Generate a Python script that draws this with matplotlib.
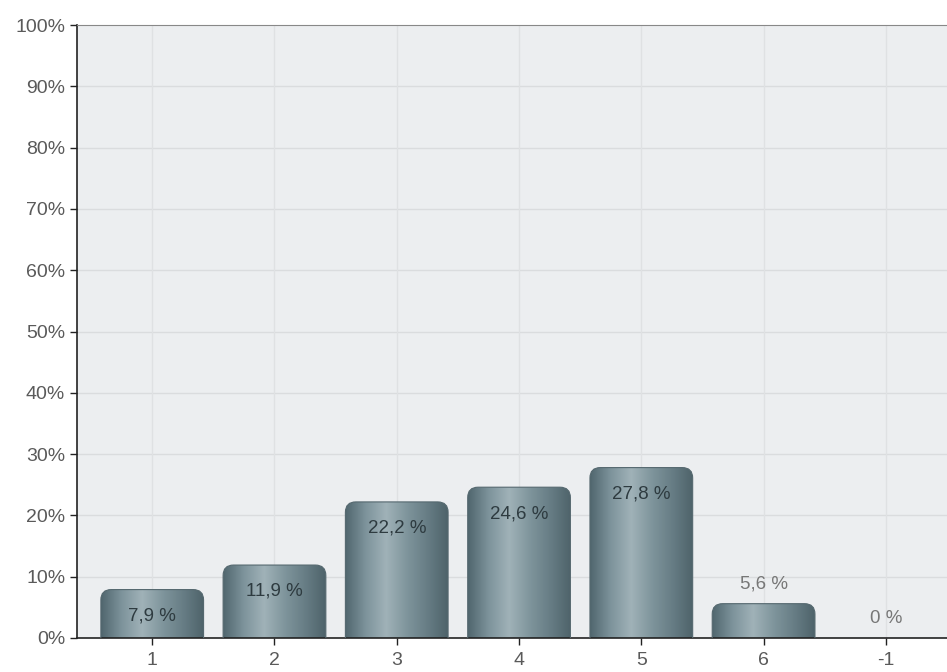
import numpy as np
import matplotlib
matplotlib.use("Agg")
import matplotlib.pyplot as plt
from matplotlib.patches import FancyBboxPatch
from matplotlib.colors import LinearSegmentedColormap

# ── Data ─────────────────────────────────────────────────────────────────────
categories = ["1", "2", "3", "4", "5", "6", "-1"]
values     = [7.9, 11.9, 22.2, 24.6, 27.8, 5.6, 0.0]
labels     = ["7,9 %", "11,9 %", "22,2 %", "24,6 %", "27,8 %", "5,6 %", "0 %"]
yticks     = list(range(0, 101, 10))

plt.rcParams["font.family"] = ["Liberation Sans", "DejaVu Sans"]

BAR_W = 0.84
bar_cmap = LinearSegmentedColormap.from_list(
    "steel", ["#50666e", "#7d939b", "#a0b2b8", "#7f959c", "#677d85", "#4e636a"])

fig = plt.figure(figsize=(9.47, 6.72), dpi=100)
ax = fig.add_axes([77 / 947, 1 - 638 / 672, 1 - 77 / 947, (638 - 25) / 672])

ax.set_facecolor("#eceef0")
ax.set_xlim(-0.615, 6.5)
ax.set_ylim(0, 100)

# faint grid
for y in yticks[1:-1]:
    ax.axhline(y, color="#dadcde", lw=1, zorder=0.5)
for i in range(len(categories)):
    ax.axvline(i, color="#dfe1e3", lw=1, zorder=0.5)

# bars with horizontal gradient and rounded tops
grad = np.linspace(0, 1, 256).reshape(1, -1)
x = np.arange(len(categories))
for xi, v, lab in zip(x, values, labels):
    if v > 0:
        left = xi - BAR_W / 2
        patch = FancyBboxPatch((left, -5), BAR_W, v + 5,
                               boxstyle="round,pad=0,rounding_size=0.085",
                               mutation_aspect=20, facecolor="none",
                               edgecolor="#55686f", lw=0.8, zorder=3)
        ax.add_patch(patch)
        im = ax.imshow(grad, cmap=bar_cmap, aspect="auto",
                       extent=[left, left + BAR_W, 0, v], zorder=2)
        im.set_clip_path(patch)
    if v > 6:
        ax.text(xi, v - 4.3, lab, ha="center", va="center", fontsize=13.5,
                color="#2e3b40", zorder=4)
    else:
        ax.text(xi, v + 1.8, lab, ha="center", va="bottom", fontsize=13.5,
                color="#777777", zorder=4)

ax.set_xticks(x)
ax.set_xticklabels(categories)
ax.set_yticks(yticks)
ax.set_yticklabels([f"{t}%" for t in yticks])
ax.tick_params(axis="both", labelsize=14, labelcolor="#5a5a5a",
               color="#222222", length=5, width=1)
ax.tick_params(axis="x", pad=5)

for side in ("left", "bottom"):
    ax.spines[side].set_color("#222222")
    ax.spines[side].set_linewidth(1.2)
ax.spines["top"].set_color("#888888")
ax.spines["right"].set_visible(False)

fig.savefig("out.png", dpi=100, facecolor="white")
